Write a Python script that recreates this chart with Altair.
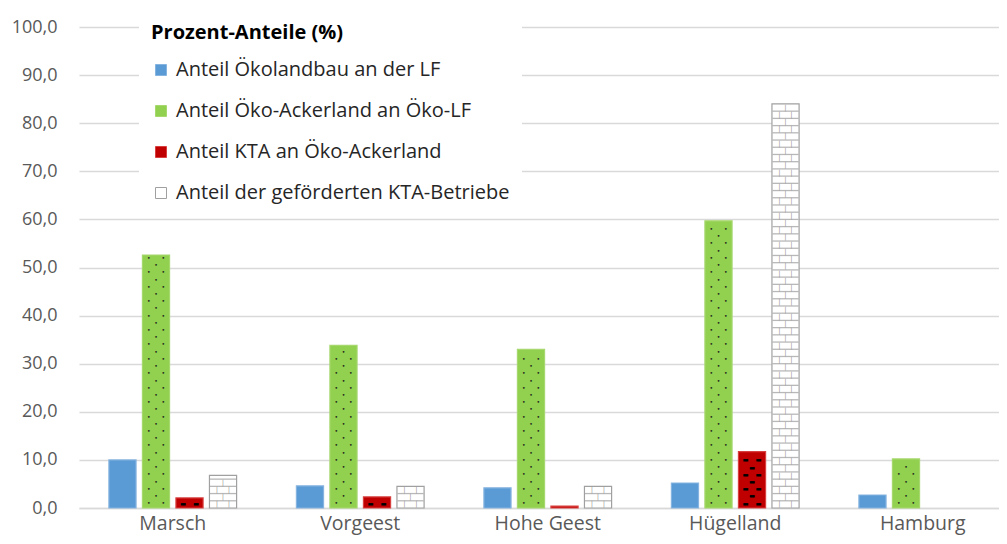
import altair as alt
import pandas as pd

# ---- data ----
regions = ["Marsch", "Vorgeest", "Hohe Geest", "Hügelland", "Hamburg"]
series_names = [
    "Anteil Ökolandbau an der LF",
    "Anteil Öko-Ackerland an Öko-LF",
    "Anteil KTA an Öko-Ackerland",
    "Anteil der geförderten KTA-Betriebe",
]
anteil_oekolandbau = [10.0, 4.6, 4.2, 5.2, 2.7]
anteil_oeko_acker = [52.6, 33.8, 33.0, 59.7, 10.2]
anteil_kta = [2.1, 2.3, 0.4, 11.7, None]
anteil_gefoerdert = [6.8, 4.5, 4.5, 84.0, None]
y_ticks = [0, 10, 20, 30, 40, 50, 60, 70, 80, 90, 100]
legend_title = "Prozent-Anteile (%)"

fills = ["#5B9BD5", "#92D050", "#C00000", "#FFFFFF"]
strokes = ["#86B4E0", "#A6D86E", "#D84040", "#A0A0A0"]
FONT = "Open Sans"

rows = []
for i, r in enumerate(regions):
    for s, vals in zip(series_names, [anteil_oekolandbau, anteil_oeko_acker, anteil_kta, anteil_gefoerdert]):
        rows.append({"region": r, "series": s, "value": vals[i]})
df = pd.DataFrame(rows)

x_enc = alt.X(
    "region:N", sort=regions,
    scale=alt.Scale(domain=regions, range=[0, 937.5], paddingInner=0.285, paddingOuter=0.1425),
    axis=alt.Axis(title=None, labelAngle=0, labelFont=FONT, labelFontSize=19.5, labelColor="#595959",
                  ticks=False, domain=True, domainColor="#D9D9D9", domainWidth=1.5,
                  labelPadding=6, labelBaseline="top", grid=False),
)
xoff = alt.XOffset("series:N", sort=series_names,
                   scale=alt.Scale(domain=series_names, paddingInner=0.19, paddingOuter=0.095))
y_scale = alt.Scale(domain=[0, 100], nice=False)
y_axis = alt.Axis(title=None, values=y_ticks,
                  labelExpr="replace(format(datum.value, '.1f'), '.', ',')",
                  grid=True, gridColor="#D9D9D9", gridWidth=1.5, ticks=False, domain=False,
                  labelFont=FONT, labelFontSize=18, labelColor="#595959", labelPadding=22)

legend = alt.Legend(
    title=legend_title, orient="none", legendX=60, legendY=-16, direction="vertical",
    fillColor="white", padding=12,
    titleFont=FONT, titleFontSize=20, titleFontWeight="bold", titleColor="#000000", titlePadding=17,
    titleLimit=600,
    labelFont=FONT, labelFontSize=20, labelColor="#262626", labelOffset=5, labelLimit=600,
    symbolType="square", symbolSize=121, symbolStrokeWidth=1, rowPadding=21,
)

bars = alt.Chart(df).mark_bar(strokeWidth=1.2).encode(
    x=x_enc,
    xOffset=xoff,
    y=alt.Y("value:Q", scale=y_scale, axis=y_axis),
    fill=alt.Fill("series:N", sort=series_names, scale=alt.Scale(domain=series_names, range=fills), legend=legend),
    stroke=alt.Stroke("series:N", sort=series_names, scale=alt.Scale(domain=series_names, range=strokes), legend=legend),
)


def pattern(series, start, step, margin, glyph, dx, size, color):
    return (
        alt.Chart(df)
        .transform_filter(alt.datum.series == series)
        .transform_filter("isValid(datum.value)")
        .transform_calculate(pos=f"sequence({start}, datum.value - {margin}, {step})")
        .transform_flatten(["pos"])
        .mark_text(text=glyph, dx=dx, fontSize=size, color=color, font="DejaVu Sans", baseline="middle")
        .encode(x=x_enc, xOffset=xoff, y=alt.Y("pos:Q", scale=y_scale, axis=y_axis))
    )


layers = [bars]
# dotted pattern on green bars
green = series_names[1]
for dx in (-7.3, 7.3):
    layers.append(pattern(green, 1.0, 3.0, 0.5, "•", dx, 6, "#1a1a1a"))
layers.append(pattern(green, 2.5, 3.0, 0.5, "•", 0, 6, "#1a1a1a"))
# dash pattern on red bars
red = series_names[2]
for dx in (-6.5, 6.5):
    layers.append(pattern(red, 0.9, 3.0, 0.4, "▬", dx, 6.5, "#000000"))
layers.append(pattern(red, 2.4, 3.0, 0.4, "▬", 0, 6.5, "#000000"))
# brick pattern on white bars
brick = series_names[3]
layers.append(
    alt.Chart(df)
    .transform_filter(alt.datum.series == brick)
    .transform_filter("isValid(datum.value)")
    .transform_calculate(pos="sequence(1.5, datum.value - 0.5, 1.5)")
    .transform_flatten(["pos"])
    .mark_tick(size=26, thickness=1.3, color="#9A9A9A")
    .encode(x=x_enc, xOffset=xoff, y=alt.Y("pos:Q", scale=y_scale, axis=y_axis))
)
for dx in (-6, 6):
    layers.append(pattern(brick, 0.75, 3.0, 0.7, "|", dx, 7, "#9A9A9A"))
layers.append(pattern(brick, 2.25, 3.0, 0.7, "|", 0, 7, "#9A9A9A"))

chart = (
    alt.layer(*layers)
    .properties(
        width=920, height=481,
        autosize=alt.AutoSizeParams(type="none"),
        padding={"left": 71, "top": 19, "right": 0, "bottom": 36},
    )
    .configure_view(stroke=None)
)

chart.save("out.html", embed_options={"renderer": "svg", "actions": False})
